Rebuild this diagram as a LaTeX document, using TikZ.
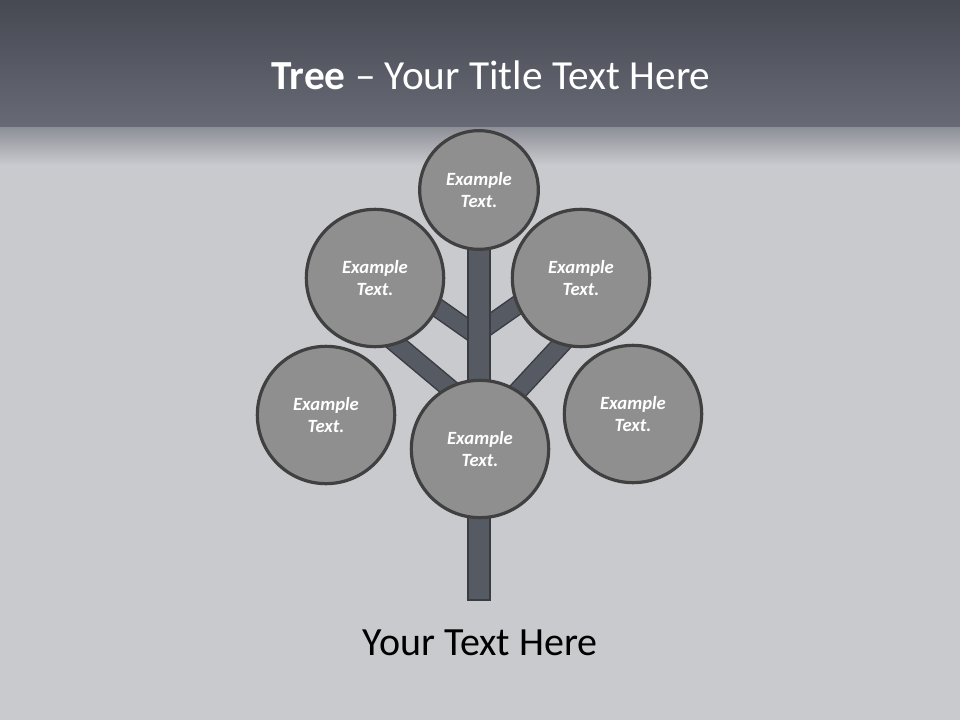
\documentclass[tikz,border=0pt]{standalone}
\usepackage{fontspec}
\setmainfont{Carlito}
\definecolor{headtop}{HTML}{464952}
\definecolor{headbot}{HTML}{686B75}
\definecolor{paper}{HTML}{C9CACE}
\definecolor{trunkfill}{HTML}{565A63}
\definecolor{trunkline}{HTML}{393C42}
\definecolor{bubblefill}{HTML}{8F8F8F}
\definecolor{bubbleline}{HTML}{404040}
\tikzset{
  bubble/.style={circle, draw=bubbleline, line width=2.4pt, fill=bubblefill,
    text=white, align=center, inner sep=0pt, minimum size=103pt,
    font=\fontsize{14}{17}\selectfont\bfseries\itshape},
  small bubble/.style={bubble, minimum size=89pt},
  branch/.style={draw=trunkline, line width=1.1pt, double=trunkfill,
    double distance=12.5pt, line cap=butt},
}

\begin{document}
\begin{tikzpicture}[x=0.75pt, y=-0.75pt]
			%%%%% BACKGROUND %%%%%
			\useasboundingbox (0, 0) rectangle (960, 720);
			\fill[paper] (0, 0) rectangle (960, 720);
			\shade[top color=headtop, bottom color=headbot] (0, 0) rectangle (960, 128);
			\shade[top color=headbot!60!paper, bottom color=paper] (0, 128) rectangle (960, 165);
			
			\node[text=white, font=\fontsize{31}{37}\selectfont] (title) at (491, 75) {\textbf{Tree} -- Your Title Text Here};
			
			%%%%% BRANCHES %%%%%
			\coordinate (fork top l) at (479, 337);
			\coordinate (fork top r) at (479, 332);
			\coordinate (fork low l) at (479, 413);
			\coordinate (fork low r) at (479, 433);
			\coordinate (tip top l) at (422, 297);
			\coordinate (tip top r) at (536, 292);
			\coordinate (tip low l) at (380, 330);
			\coordinate (tip low r) at (580, 324);
			
			\draw[branch] (fork top l) -- (tip top l);
			\draw[branch] (fork top r) -- (tip top r);
			\draw[branch] (fork low l) -- (tip low l);
			\draw[branch] (fork low r) -- (tip low r);
			
			\draw[fill=trunkfill, draw=trunkline, line width=1.1pt] (468, 240) rectangle (490, 600);
			
			%%%%% BUBBLES %%%%%
			\node[small bubble] (crown) at (479, 190) {Example\\Text.};
			\node[bubble] (upper left) at (375, 278) {Example\\Text.};
			\node[bubble] (upper right) at (581, 278) {Example\\Text.};
			\node[bubble] (lower left) at (326, 415) {Example\\Text.};
			\node[bubble] (lower right) at (633, 414) {Example\\Text.};
			\node[bubble] (heart) at (480, 449) {Example\\Text.};
			
			\node[font=\fontsize{30}{36}\selectfont] (caption) at (480, 643) {Your Text Here};
\end{tikzpicture}
\end{document}
